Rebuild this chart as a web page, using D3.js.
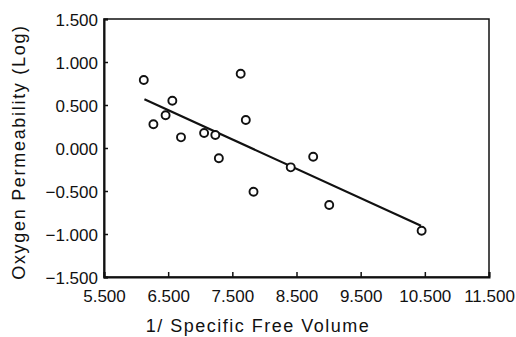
<!DOCTYPE html>
<html>
<head>
<meta charset="utf-8">
<script src="https://cdn.jsdelivr.net/npm/d3@7"></script>
<style>
html,body{margin:0;padding:0;background:#fff;}
svg{display:block;}
text{font-family:"Liberation Sans",Arial,Helvetica,sans-serif;fill:#111;}
</style>
</head>
<body>
<svg id="chart" width="516" height="337"></svg>
<script>
const xValues = [6.12, 6.27, 6.46, 6.565, 6.70, 7.06, 7.235, 7.29, 7.63, 7.71, 7.83, 8.41, 8.76, 9.01, 10.45];
const yValues = [0.79, 0.276, 0.38, 0.55, 0.124, 0.174, 0.151, -0.12, 0.864, 0.326, -0.508, -0.225, -0.101, -0.663, -0.962];
const fitX = [6.13, 10.44];
const fitY = [0.566, -0.903];
const xTicks = [5.5, 6.5, 7.5, 8.5, 9.5, 10.5, 11.5];
const yTicks = [-1.5, -1.0, -0.5, 0.0, 0.5, 1.0, 1.5];
const xTitle = "1/ Specific Free Volume";
const yTitle = "Oxygen Permeability (Log)";

const svg = d3.select("#chart");
const L = 104, R = 489, T = 19, B = 277;
const x = d3.scaleLinear().domain([5.5, 11.5]).range([L, R]);
const y = d3.scaleLinear().domain([-1.5, 1.5]).range([B, T]);
const fmt = v => (v < 0 ? "\u2212" : "") + Math.abs(v).toFixed(3);

// frame
svg.append("rect").attr("x", L).attr("y", T).attr("width", R - L).attr("height", B - T)
  .attr("fill", "none").attr("stroke", "#111").attr("stroke-width", 1.5);

// axes with inward ticks
const xAxis = d3.axisBottom(x).tickValues(xTicks).tickSize(-5).tickPadding(13).tickFormat(fmt);
const gx = svg.append("g").attr("transform", `translate(0,${B})`).call(xAxis);
gx.select(".domain").attr("stroke", "#111").attr("stroke-width", 2);
gx.selectAll(".tick line").attr("stroke", "#111").attr("stroke-width", 1.5);
gx.selectAll(".tick text").attr("font-size", 17).attr("font-family", "Liberation Sans, Arial, sans-serif").attr("fill", "#111");

const yAxis = d3.axisLeft(y).tickValues(yTicks).tickSize(-4).tickPadding(6).tickFormat(fmt);
const gy = svg.append("g").attr("transform", `translate(${L},0)`).call(yAxis);
gy.select(".domain").attr("stroke", "#111").attr("stroke-width", 2);
gy.selectAll(".tick line").attr("stroke", "#111").attr("stroke-width", 1.5);
gy.selectAll(".tick text").attr("font-size", 17).attr("font-family", "Liberation Sans, Arial, sans-serif").attr("fill", "#111").attr("dy", "0.4em");

// regression line
svg.append("path")
  .datum(fitX.map((v, i) => [v, fitY[i]]))
  .attr("d", d3.line().x(d => x(d[0])).y(d => y(d[1])))
  .attr("fill", "none").attr("stroke", "#111").attr("stroke-width", 2.2);

// points
svg.append("g").selectAll("circle")
  .data(xValues.map((v, i) => [v, yValues[i]]))
  .join("circle")
  .attr("cx", d => x(d[0])).attr("cy", d => y(d[1])).attr("r", 4)
  .attr("fill", "#fff").attr("stroke", "#111").attr("stroke-width", 1.9);

// titles
svg.append("text").attr("x", 258).attr("y", 332).attr("text-anchor", "middle")
  .attr("font-size", 18).attr("letter-spacing", "1.5px").text(xTitle);
svg.append("text").attr("transform", "translate(25,152) rotate(-90)").attr("text-anchor", "middle")
  .attr("font-size", 18).attr("letter-spacing", "1.7px").text(yTitle);
</script>
</body>
</html>
